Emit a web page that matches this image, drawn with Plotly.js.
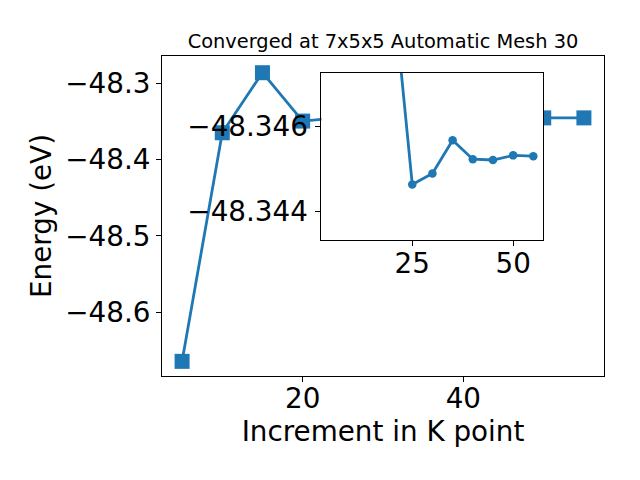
<!DOCTYPE html>
<html>
<head>
<meta charset="utf-8">
<script src="https://cdn.plot.ly/plotly-3.0.1.min.js"></script>
<style>html,body{margin:0;padding:0;background:#fff;}#chart{width:640px;height:480px;}</style>
</head>
<body>
<div id="chart"></div>
<script>
const kpoints = [5, 10, 15, 20, 25, 30, 35, 40, 45, 50, 55];
const energy = [-48.6644, -48.3648, -48.2861, -48.3495, -48.34463, -48.34489, -48.34568, -48.34523, -48.34521, -48.34532, -48.34530];
const insetKpoints = [20, 25, 30, 35, 40, 45, 50, 55];
const insetEnergy = [-48.3495, -48.34463, -48.34489, -48.34568, -48.34523, -48.34521, -48.34532, -48.34530];
const mainYTickVals = [-48.6, -48.5, -48.4, -48.3];
const mainYTickText = ['\u221248.6', '\u221248.5', '\u221248.4', '\u221248.3'];
const mainXTickVals = [20, 40];
const insetXTickVals = [25, 50];
const insetYTickVals = [-48.346, -48.344];
const insetYTickText = ['\u221248.346', '\u221248.344'];
const titleText = 'Converged at 7x5x5 Automatic Mesh 30';
const xTitle = 'Increment in K point';
const yTitle = 'Energy (eV)';

const color = '#1f77b4';
const FONT = 'DejaVu Sans, sans-serif';
const BIG = 27.8;

const traces = [
  {
    x: kpoints, y: energy, xaxis: 'x', yaxis: 'y',
    type: 'scatter', mode: 'lines+markers',
    line: {color: color, width: 2.8},
    marker: {symbol: 'square', size: 15, color: color},
    showlegend: false, hoverinfo: 'skip'
  },
  {
    x: insetKpoints, y: insetEnergy, xaxis: 'x2', yaxis: 'y2',
    type: 'scatter', mode: 'lines+markers',
    line: {color: color, width: 2.8},
    marker: {symbol: 'circle', size: 8.5, color: color},
    showlegend: false, hoverinfo: 'skip'
  }
];

const axCommon = {
  showgrid: false, zeroline: false, showline: true, mirror: true,
  linecolor: '#000', linewidth: 1, ticks: 'outside', ticklen: 5, tickwidth: 1,
  tickcolor: '#000', tickfont: {family: FONT, size: BIG, color: '#000'}
};

const layout = {
  width: 640, height: 480,
  paper_bgcolor: '#fff', plot_bgcolor: '#fff',
  margin: {l: 161.7, r: 35.7, t: 56, b: 104.3, pad: 0},
  showlegend: false,
  title: {
    text: titleText, font: {family: FONT, size: 19.4, color: '#000'},
    x: 0.5, xanchor: 'center', xref: 'paper', yref: 'paper', y: 1, yanchor: 'bottom',
    pad: {b: 8}
  },
  xaxis: Object.assign({}, axCommon, {
    domain: [0, 1], range: [2.5, 57.5], tickmode: 'array', tickvals: mainXTickVals,
    ticklabelstandoff: -7,
    title: {text: xTitle, font: {family: FONT, size: BIG, color: '#000'}, standoff: 6}
  }),
  yaxis: Object.assign({}, axCommon, {
    domain: [0, 1], range: [-48.6836, -48.2642], tickmode: 'array',
    tickvals: mainYTickVals, ticktext: mainYTickText,
    title: {text: yTitle, font: {family: FONT, size: BIG, color: '#000'}, standoff: 5}
  }),
  xaxis2: Object.assign({}, axCommon, {
    domain: [0.3608, 0.8629], range: [2.5, 57.5], anchor: 'y2',
    tickmode: 'array', tickvals: insetXTickVals, ticklabelstandoff: -7
  }),
  yaxis2: Object.assign({}, axCommon, {
    domain: [0.4245, 0.9478], range: [-48.34331, -48.34728], anchor: 'x2',
    tickmode: 'array', tickvals: insetYTickVals, ticktext: insetYTickText,
    ticklabelstandoff: 2
  })
};

Plotly.newPlot('chart', traces, layout, {staticPlot: true, displayModeBar: false});
</script>
</body>
</html>
